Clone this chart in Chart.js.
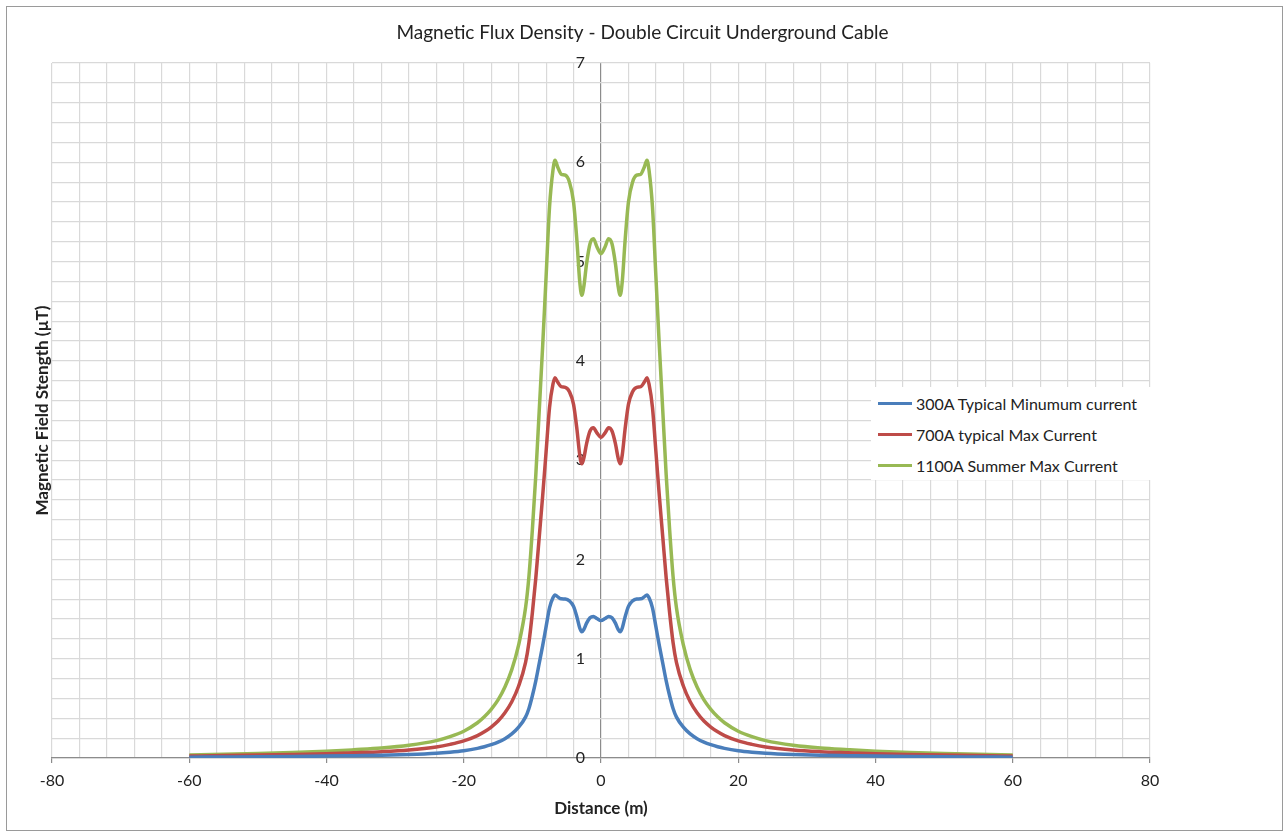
<!DOCTYPE html>
<html>
<head>
<meta charset="utf-8">
<script src="https://cdn.jsdelivr.net/npm/chart.js@4.4.1/dist/chart.umd.min.js"></script>
<style>
  html, body { margin: 0; padding: 0; background: #fff; }
  #wrap { position: relative; width: 1285px; height: 835px; overflow: hidden; }
  #legend { position: absolute; left: 871px; top: 387px; width: 414px; height: 93px; background: #fff;
            font-family: Lato, "Open Sans", sans-serif; font-size: 16px; color: #222; }
  #frame { position: absolute; left: 6px; top: 6px; width: 1275px; height: 823px; border: 1.5px solid #9a9a9a; pointer-events: none; }
  .row { position: absolute; left: 0; height: 20px; display: flex; align-items: center; }
  .sw { width: 34px; height: 3px; margin-left: 7px; margin-right: 4px; }
</style>
</head>
<body>
<div id="wrap">
  <canvas id="c" width="1285" height="835"></canvas>
  <div id="legend"></div>
  <div id="frame"></div>
</div>
<script>
// ---- data ----
const distances = [-60,-55,-50,-45,-40,-36,-32,-28,-24,-22,-20,-18,-17,-16,-15,-14,-13,-12,-11,-10.5,-10,-9.5,-9,-8.5,-8,-7.5,-7,-6.7,-6.3,-5.8,-5.2,-4.6,-4,-3.5,-3.1,-2.8,-2.5,-2.1,-1.6,-1.1,-0.6,0,
  0.6,1.1,1.6,2.1,2.5,2.8,3.1,3.5,4,4.6,5.2,5.8,6.3,6.7,7,7.5,8,8.5,9,9.5,10,10.5,11,12,13,14,15,16,17,18,20,22,24,28,32,36,40,45,50,55,60];

const current300 = [0.008,0.010,0.012,0.015,0.019,0.023,0.027,0.035,0.048,0.059,0.074,0.097,0.113,0.134,0.160,0.195,0.243,0.311,0.412,0.499,0.627,0.777,0.954,1.132,1.323,1.513,1.614,1.642,1.623,1.603,1.601,1.582,1.527,1.418,1.309,1.271,1.295,1.358,1.413,1.426,1.405,1.385,
  1.405,1.426,1.413,1.358,1.295,1.271,1.309,1.418,1.527,1.582,1.601,1.603,1.623,1.642,1.614,1.513,1.323,1.132,0.954,0.777,0.627,0.499,0.412,0.311,0.243,0.195,0.160,0.134,0.113,0.097,0.074,0.059,0.048,0.035,0.027,0.023,0.019,0.015,0.012,0.010,0.008];

const current700 = [0.020,0.024,0.029,0.035,0.043,0.053,0.064,0.081,0.111,0.137,0.172,0.226,0.264,0.312,0.372,0.455,0.566,0.725,0.960,1.164,1.463,1.813,2.226,2.640,3.085,3.530,3.765,3.829,3.784,3.740,3.733,3.689,3.562,3.307,3.053,2.964,3.021,3.167,3.294,3.326,3.275,3.231,
  3.275,3.326,3.294,3.167,3.021,2.964,3.053,3.307,3.562,3.689,3.733,3.740,3.784,3.829,3.765,3.530,3.085,2.640,2.226,1.813,1.463,1.164,0.960,0.725,0.566,0.455,0.372,0.312,0.264,0.226,0.172,0.137,0.111,0.081,0.064,0.053,0.043,0.035,0.029,0.024,0.020];

const current1100 = [0.031,0.037,0.045,0.055,0.068,0.083,0.100,0.128,0.175,0.215,0.270,0.355,0.415,0.490,0.585,0.715,0.890,1.140,1.510,1.830,2.300,2.850,3.500,4.150,4.850,5.550,5.920,6.020,5.950,5.880,5.870,5.800,5.600,5.200,4.800,4.660,4.750,4.980,5.180,5.230,5.150,5.080,
  5.150,5.230,5.180,4.980,4.750,4.660,4.800,5.200,5.600,5.800,5.870,5.880,5.950,6.020,5.920,5.550,4.850,4.150,3.500,2.850,2.300,1.830,1.510,1.140,0.890,0.715,0.585,0.490,0.415,0.355,0.270,0.215,0.175,0.128,0.100,0.083,0.068,0.055,0.045,0.037,0.031];

const seriesNames = ["300A Typical Minumum current", "700A typical Max Current", "1100A Summer Max Current"];
const seriesColors = ["#4a7ebb", "#be4b48", "#98b954"];
const yTickLabels = ["0","1","2","3","4","5","6","7"];
const xTickLabels = ["-80","-60","-40","-20","0","20","40","60","80"];
const chartTitle = "Magnetic Flux Density - Double Circuit Underground Cable";
const xTitle = "Distance (m)";
const yTitle = "Magnetic Field Stength (µT)";

const seriesValues = [current300, current700, current1100];
const FONT = "Lato, 'Open Sans', sans-serif";

function pts(vals) { return distances.map((d, i) => ({ x: d, y: vals[i] })); }

const centerLabels = {
  id: 'centerLabels',
  beforeDatasetsDraw(chart) {
    const { ctx, scales: { x, y } } = chart;
    const x0 = x.getPixelForValue(0);
    ctx.save();
    ctx.font = "16px " + FONT;
    ctx.fillStyle = "#222";
    ctx.textAlign = "right";
    ctx.textBaseline = "middle";
    yTickLabels.forEach(t => ctx.fillText(t, x0 - 16, y.getPixelForValue(Number(t))));
    ctx.restore();
  }
};

new Chart(document.getElementById('c'), {
  type: 'line',
  data: {
    datasets: seriesValues.map((v, i) => ({
      label: seriesNames[i],
      data: pts(v),
      borderColor: seriesColors[i],
      backgroundColor: seriesColors[i],
      borderWidth: 3.5,
      pointRadius: 0,
      cubicInterpolationMode: 'monotone',
      fill: false
    }))
  },
  options: {
    responsive: false,
    animation: false,
    devicePixelRatio: 1,
    layout: { padding: { left: 28, right: 28, top: 10, bottom: 12 } },
    plugins: {
      legend: { display: false },
      tooltip: { enabled: false },
      title: {
        display: true, text: chartTitle, color: "#222",
        font: { family: FONT, size: 19, weight: 'normal' },
        padding: { top: 11.6, bottom: 18.6 }
      }
    },
    scales: {
      x: {
        type: 'linear', min: -80, max: 80,
        ticks: {
          stepSize: 4, autoSkip: false, maxRotation: 0, padding: 8,
          color: "#222", font: { family: FONT, size: 16 },
          callback: v => (Math.round(v) % 20 === 0 && xTickLabels.includes(String(Math.round(v)))) ? String(Math.round(v)) : ''
        },
        grid: {
          color: c => (c.tick && c.tick.value === 0) ? '#8c8c8c' : '#d9d9d9',
          lineWidth: 1.2,
          tickLength: 5,
          tickColor: c => (c.tick && Math.round(c.tick.value) % 20 === 0) ? '#8c8c8c' : 'rgba(0,0,0,0)'
        },
        border: { display: true, color: '#8c8c8c', width: 1.2 },
        title: { display: true, text: xTitle, color: "#222", font: { family: FONT, size: 17, weight: 'bold' } },
        afterFit: s => { s.height = 65; }
      },
      y: {
        type: 'linear', position: 'left', min: 0, max: 7,
        ticks: { stepSize: 0.2, display: false },
        grid: { color: '#d9d9d9', lineWidth: 1.2, drawTicks: false },
        border: { display: false },
        title: { display: true, text: yTitle, color: "#222", font: { family: FONT, size: 17, weight: 'bold' } },
        afterFit: s => { s.width = 24; }
      },
      yR: {
        type: 'linear', position: 'right', min: 0, max: 7, display: true,
        ticks: { display: false }, grid: { display: false }, border: { display: false },
        afterFit: s => { s.width = 107; }
      }
    }
  },
  plugins: [centerLabels]
});

// HTML legend built from the series arrays
const lg = document.getElementById('legend');
seriesNames.forEach((n, i) => {
  const r = document.createElement('div');
  r.className = 'row';
  r.style.top = (6 + i * 31.3) + 'px';
  const sw = document.createElement('div');
  sw.className = 'sw';
  sw.style.background = seriesColors[i];
  const t = document.createElement('span');
  t.textContent = n;
  r.appendChild(sw); r.appendChild(t);
  lg.appendChild(r);
});
</script>
</body>
</html>
